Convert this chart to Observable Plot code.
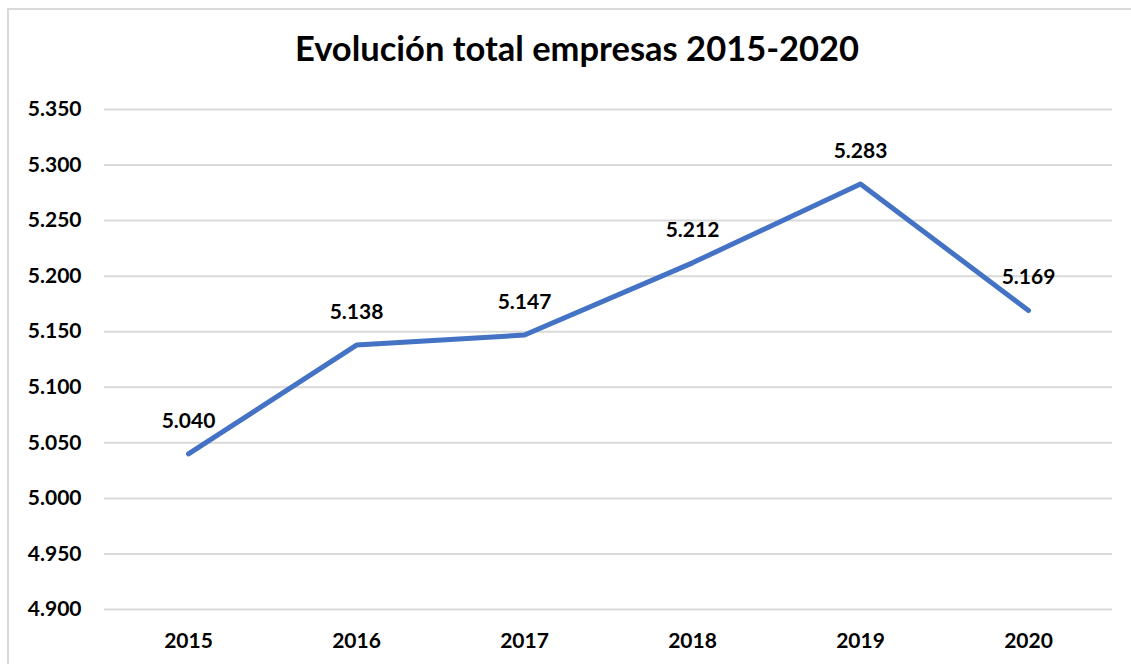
<!DOCTYPE html>
<html>
<head>
<meta charset="utf-8">
<script src="https://cdn.jsdelivr.net/npm/d3@7"></script>
<script src="https://cdn.jsdelivr.net/npm/@observablehq/plot@0.6"></script>
<style>
  html, body { margin: 0; padding: 0; background: #fff; }
  #wrap { position: relative; width: 1131px; height: 664px; overflow: hidden; }
  #frame { position: absolute; left: 7px; top: 8px; width: 2000px; height: 2000px;
           border-left: 2px solid #d9d9d9; border-top: 2px solid #d9d9d9; }
  #title { position: absolute; left: 0; top: 27px; width: 1154px; text-align: center;
           font-family: Lato, "Open Sans", sans-serif; font-weight: 700; font-size: 34.5px; color: #000; }
  #chart { position: absolute; left: 0; top: 0; }
</style>
</head>
<body>
<div id="wrap">
  <div id="frame"></div>
  <div id="chart"></div>
  <div id="title">Evolución total empresas 2015-2020</div>
</div>
<script>
const years = ["2015", "2016", "2017", "2018", "2019", "2020"];
const totals = [5040, 5138, 5147, 5212, 5283, 5169];
const yTicks = [4900, 4950, 5000, 5050, 5100, 5150, 5200, 5250, 5300, 5350];

const data = years.map((y, i) => ({year: y, total: totals[i]}));
const fmt = d => d3.format(",")(d).replace(/,/g, ".");

const chart = Plot.plot({
  width: 1131,
  height: 664,
  marginTop: 109,
  marginBottom: 55,
  marginLeft: 104,
  marginRight: 19,
  style: {fontFamily: "Lato, 'Open Sans', sans-serif", fontSize: "21px", fontWeight: "700", color: "#000", background: "transparent"},
  x: {type: "point", domain: years, padding: 0.5, label: null, tickSize: 0, tickPadding: 24},
  y: {domain: [4900, 5350], ticks: yTicks, tickFormat: fmt, label: null, tickSize: 0, tickPadding: 24},
  marks: [
    Plot.gridY(yTicks, {stroke: "#d9d9d9", strokeOpacity: 1, strokeWidth: 2}),
    Plot.axisY({ticks: yTicks, tickFormat: fmt, tickSize: 0, tickPadding: 23, label: null, fill: "#000"}),
    Plot.axisX({tickSize: 0, tickPadding: 24, label: null, fill: "#000"}),
    Plot.lineY(data, {x: "year", y: "total", stroke: "#4472C4", strokeWidth: 5, strokeLinecap: "round", strokeLinejoin: "round"}),
    Plot.text(data, {x: "year", y: "total", text: d => fmt(d.total), dy: -33, fill: "#000", fontSize: 21, fontWeight: 700})
  ]
});
document.getElementById("chart").appendChild(chart);
</script>
</body>
</html>
